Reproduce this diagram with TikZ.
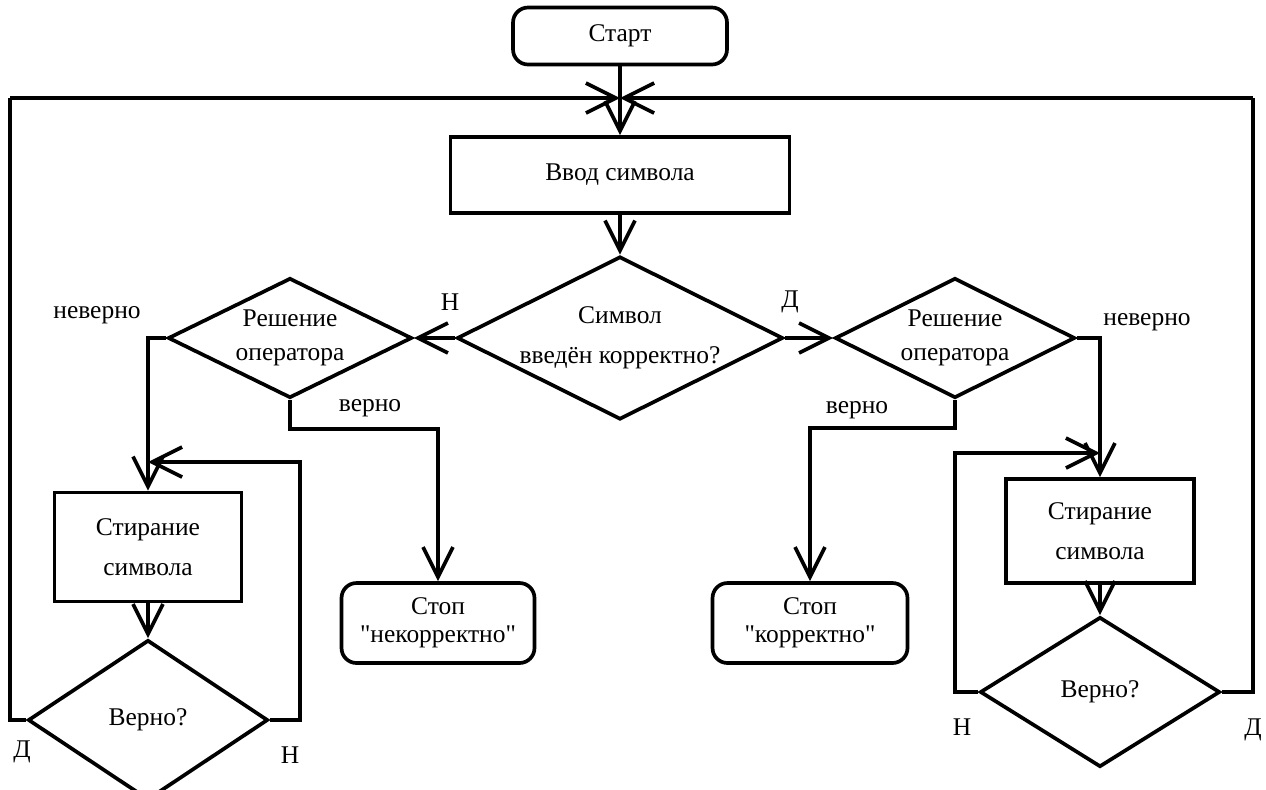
\documentclass[tikz,border=0pt]{standalone}
\usepackage{fontspec}
\setmainfont{Liberation Serif}[Ligatures=TeXOff]
\usepackage{tikz}
\usetikzlibrary{arrows.meta}
\usetikzlibrary{shapes.geometric}

\begin{document}
\begin{tikzpicture}[x=0.02cm, y=-0.02cm, line width=2.1pt, font=\fontsize{14.5}{17}\selectfont, term style/.style={draw, rectangle, rounded corners=0.3cm, align=center, font=\fontsize{14.5}{16}\selectfont}, proc style/.style={draw, rectangle, align=center, font=\fontsize{14.5}{23}\selectfont}, dec style/.style={draw, diamond, shape aspect=2, inner sep=0pt, align=center, font=\fontsize{14.5}{19}\selectfont}, arr/.style={-{Straight Barb[length=0.6cm,width=0.6cm]}}]
	\useasboundingbox (0,0) rectangle (1266,789);
	\node[term style, minimum width=4.28cm, minimum height=1.14cm] (start) at (620,36) {Старт};
	\node[proc style, minimum width=6.78cm, minimum height=1.52cm] (input) at (620,175) {Ввод символа};
	\node[dec style, font=\fontsize{14.5}{23}\selectfont, minimum width=6.26cm, minimum height=3.02cm] (check) at (620,338) {Символ\\введён корректно?};
	\node[dec style, minimum width=4.88cm, minimum height=2.4cm] (ldec) at (290,338) {Решение\\оператора};
	\node[dec style, minimum width=4.8cm, minimum height=2.4cm] (rdec) at (955,338) {Решение\\оператора};
	\node[proc style, minimum width=3.74cm, minimum height=2.18cm] (lbox) at (148,547) {Стирание\\символа};
	\node[proc style, minimum width=3.76cm, minimum height=2.08cm] (rbox) at (1100,531) {Стирание\\символа};
	\node[dec style, minimum width=4.8cm, minimum height=3.2cm] (lver) at (148,720) {Верно?};
	\node[dec style, minimum width=4.8cm, minimum height=3cm] (rver) at (1100,692) {Верно?};
	\node[term style, minimum width=3.86cm, minimum height=1.6cm] (lstop) at (438,623) {Стоп\\"некорректно"};
	\node[term style, minimum width=3.9cm, minimum height=1.6cm] (rstop) at (810,623) {Стоп\\"корректно"};
	\node (no) at (450,302) {Н};
	\node (yes) at (790,302) {Д};
	\node (lwrong) at (97,315) {неверно};
	\node (lright) at (370,408) {верно};
	\node (rwrong) at (1147,322) {неверно};
	\node (rright) at (857,410) {верно};
	\node (lyes) at (22,752) {Д};
	\node (lno) at (290,755) {Н};
	\node (rno) at (962,727) {Н};
	\node (ryes) at (1253,730) {Д};
	\coordinate (jtop) at (620,98);
	\coordinate (ltop) at (10,98);
	\coordinate (rtop) at (1253,98);
	\coordinate (lbend) at (438,429);
	\coordinate (rbend) at (810,428);
	\coordinate (lback) at (300,462);
	\coordinate (ljoin) at (148,462);
	\coordinate (rback) at (955,453);
	\coordinate (rjoin) at (1100,453);
	\draw[arr] (start) -- (input);
	\draw[arr] (ltop) -- (jtop);
	\draw[arr] (rtop) -- (jtop);
	\draw (lver.west) -| (ltop);
	\draw (rver.east) -| (rtop);
	\draw[arr] (input) -- (check);
	\draw[arr] (check.west) -- (ldec.east);
	\draw[arr] (check.east) -- (rdec.west);
	\draw[arr] (ldec.west) -| (lbox.north);
	\draw[arr] (rdec.east) -| (rbox.north);
	\draw[arr] (ldec.south) |- (lbend) -- (lstop.north);
	\draw[arr] (rdec.south) |- (rbend) -- (rstop.north);
	\draw[arr] (lbox) -- (lver);
	\draw[arr] (rbox) -- (rver);
	\draw[arr] (lver.east) -| (lback) -- (ljoin);
	\draw[arr] (rver.west) -| (rback) -- (rjoin);
\end{tikzpicture}
\end{document}
